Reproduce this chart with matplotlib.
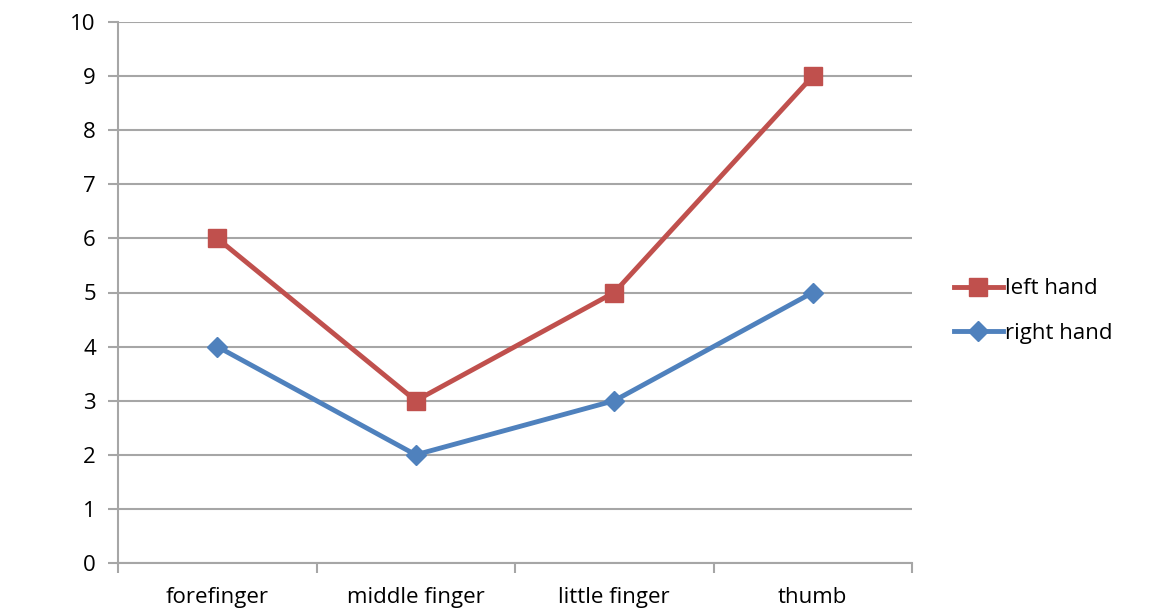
import matplotlib
matplotlib.use("Agg")
import matplotlib.pyplot as plt
from matplotlib.ticker import FixedLocator

categories = ["forefinger", "middle finger", "little finger", "thumb"]
left_hand = [6, 3, 5, 9]
right_hand = [4, 2, 3, 5]
y_ticks = list(range(0, 11))

plt.rcParams['font.family'] = ['Open Sans', 'DejaVu Sans']

fig = plt.figure(figsize=(11.66, 6.09), dpi=100)
ax = fig.add_axes([118/1166, 1-563/609, (912-118)/1166, (563-22)/609])

grid_c = "#A6A6A6"
x = list(range(len(categories)))
ax.plot(x, left_hand, color="#C0504D", lw=3.5, marker="s", ms=13, label="left hand", zorder=3)
ax.plot(x, right_hand, color="#4F81BD", lw=3.5, marker="D", ms=10.5, label="right hand", zorder=3)

ax.set_xlim(-0.5, len(categories) - 0.5)
ax.set_ylim(0, 10)
ax.set_yticks(y_ticks)
ax.set_yticklabels([str(v) for v in y_ticks], fontsize=16)
ax.set_xticks(x)
ax.set_xticklabels(categories, fontsize=16)
ax.tick_params(axis='x', which='major', length=0, pad=17)
ax.xaxis.set_minor_locator(FixedLocator([i - 0.5 for i in range(len(categories) + 1)]))
ax.tick_params(axis='x', which='minor', length=7, width=1.5, color=grid_c, direction='out')
ax.tick_params(axis='y', length=7, width=1.5, color=grid_c, direction='out', pad=9)
ax.yaxis.grid(True, color=grid_c, lw=1.5)
ax.set_axisbelow(True)
for s in ["top", "right"]:
    ax.spines[s].set_visible(False)
for s in ["left", "bottom"]:
    ax.spines[s].set_color(grid_c)
    ax.spines[s].set_linewidth(1.5)

fig.legend(loc="center left", bbox_to_anchor=(934/1166, 1-311/609), frameon=False,
           fontsize=16, handlelength=2.2, handletextpad=0.1, labelspacing=1.05)

fig.savefig("out.png", dpi=100)
